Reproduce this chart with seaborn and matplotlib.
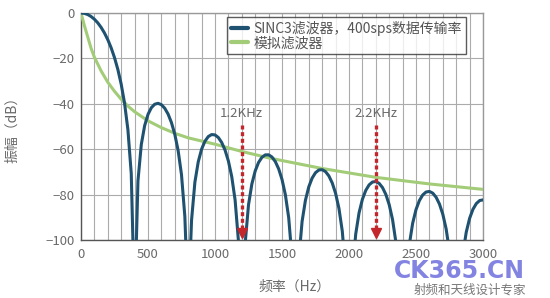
import numpy as np
import matplotlib
matplotlib.use("Agg")
import matplotlib.pyplot as plt
import seaborn as sns
from matplotlib.ticker import MultipleLocator

# ---------------- data ----------------
freq = np.arange(0, 3001, 25)  # sample frequencies, Hz

sinc3_db = [
    0.00, -0.17, -0.67, -1.53, -2.74, -4.33, -6.33, -8.79,
    -11.77, -15.34, -19.65, -24.87, -31.36, -39.73, -51.38, -70.73,
    -130.0, -73.99, -57.93, -49.62, -44.67, -41.72, -40.19, -39.79,
    -40.39, -41.96, -44.54, -48.27, -53.44, -60.64, -71.24, -89.65,
    -130.0, -91.28, -74.50, -65.54, -59.99, -56.48, -54.43, -53.55,
    -53.71, -54.86, -57.04, -60.40, -65.22, -72.09, -82.38, -100.49,
    -130.0, -101.58, -84.55, -75.35, -69.57, -65.85, -63.59, -62.51,
    -62.47, -63.44, -65.45, -68.64, -73.30, -80.02, -90.16, -108.13,
    -130.0, -108.94, -91.78, -82.46, -76.56, -72.72, -70.35, -69.16,
    -69.02, -69.89, -71.80, -74.89, -79.46, -86.09, -96.14, -114.03,
    -130.0, -114.68, -97.44, -88.04, -82.07, -78.16, -75.72, -74.46,
    -74.25, -75.05, -76.90, -79.93, -84.44, -91.01, -101.00, -118.83,
    -130.0, -119.37, -102.09, -92.64, -86.61, -82.65, -80.16, -78.86,
    -78.60, -79.36, -81.16, -84.15, -88.62, -95.14, -105.10, -122.89,
    -130.0, -123.35, -106.03, -96.54, -90.48, -86.48, -83.96, -82.62,
    -82.33,
]

analog_freq = [0, 25, 50, 75, 100, 150, 200, 250, 300, 350, 400, 500, 600,
               700, 800, 1000, 1200, 1400, 1500, 1800, 2200, 2600, 3000]
analog_db = [0.0, -5.5, -10.5, -15.5, -19.5, -25.5, -30.5, -34.5, -38.0,
             -41.0, -43.5, -47.5, -50.5, -53.0, -55.0, -57.8, -61.0, -63.8,
             -65.0, -68.5, -72.4, -75.3, -77.7]

series_labels = ["SINC3滤波器，400sps数据传输率", "模拟滤波器"]
marker_freqs = [1200, 2200]
marker_labels = ["1.2KHz", "2.2KHz"]
marker_top = -49.5
marker_text_y = -47
marker_bottom = -97

x_ticks = [0, 500, 1000, 1500, 2000, 2500, 3000]
y_ticks = [0, -20, -40, -60, -80, -100]

# ---------------- styling ----------------
sns.set_theme(style="white")
plt.rcParams["font.family"] = ["Noto Sans CJK SC", "DejaVu Sans"]
plt.rcParams["axes.unicode_minus"] = True

BLUE = "#1f5170"
GREEN = "#a3cc78"
RED = "#c3262b"
GRID = "#ababab"
TXT = "#6a6a6a"

fig = plt.figure(figsize=(5.5, 2.98), dpi=100)
ax = fig.add_axes([81/550, 1-240/298, (483-81)/550, (240-13)/298])

sns.lineplot(x=freq, y=sinc3_db, ax=ax, color=BLUE, lw=2.2,
             label=series_labels[0], zorder=4)
sns.lineplot(x=analog_freq, y=analog_db, ax=ax, color=GREEN, lw=2.2,
             label=series_labels[1], zorder=3)

ax.set_xlim(0, 3000)
ax.set_ylim(-100, 0)
ax.set_xticks(x_ticks)
ax.set_yticks(y_ticks)
ax.xaxis.set_minor_locator(MultipleLocator(100))
ax.yaxis.set_minor_locator(MultipleLocator(5))
ax.grid(True, which="major", color=GRID, lw=0.8)
ax.grid(True, which="minor", axis="x", color=GRID, lw=0.8)
ax.set_axisbelow(True)

for s in ax.spines.values():
    s.set_color("#555555")
    s.set_linewidth(1.0)
ax.spines["top"].set_color("#999999")
ax.spines["right"].set_color("#999999")

ax.tick_params(axis="both", which="major", labelsize=9.5, labelcolor=TXT,
               color="#333333", length=5, width=1.0, direction="inout")
ax.tick_params(axis="both", which="minor", color="#333333", length=5,
               width=1.0, direction="inout")
ax.tick_params(axis="x", which="major", pad=3)
ax.tick_params(axis="y", which="major", pad=2)

ax.set_xlabel("频率（Hz）", fontsize=10, color=TXT)
ax.set_ylabel("振幅（dB）", fontsize=10, color=TXT)
ax.xaxis.set_label_coords(0.53, -0.175)
ax.yaxis.set_label_coords(-0.155, 0.5)

# red dashed arrows
for f, lab in zip(marker_freqs, marker_labels):
    ax.plot([f, f], [marker_top, marker_bottom + 2], color=RED, lw=2.4,
            ls=(0, (1.2, 0.8)), zorder=6)
    ax.plot([f], [marker_bottom], marker="v", color=RED, ms=7, zorder=6,
            clip_on=False)
    ax.text(f, marker_text_y, lab, ha="center", va="bottom", fontsize=9.5,
            color=TXT, zorder=7)

leg = ax.legend(loc="upper right", bbox_to_anchor=(466/550, 1-17/298),
                bbox_transform=fig.transFigure, borderaxespad=0,
                frameon=True, fancybox=False, fontsize=10,
                handlelength=1.2, handletextpad=0.4, labelspacing=0.0,
                borderpad=0.3)
leg.get_frame().set_edgecolor("#333333")
leg.get_frame().set_linewidth(1.0)
for t in leg.get_texts():
    t.set_color("#555555")
for h in leg.get_lines():
    h.set_linewidth(3)

# watermark
fig.text(0.835, 0.09, "CK365.CN", fontsize=17, fontweight="bold",
         color="#5a5ad8", alpha=0.75, ha="center", va="center",
         family=["DejaVu Sans"])
fig.text(0.855, 0.025, "射频和天线设计专家", fontsize=9, color="#777777",
         ha="center", va="center")

fig.savefig("out.png", dpi=100)
